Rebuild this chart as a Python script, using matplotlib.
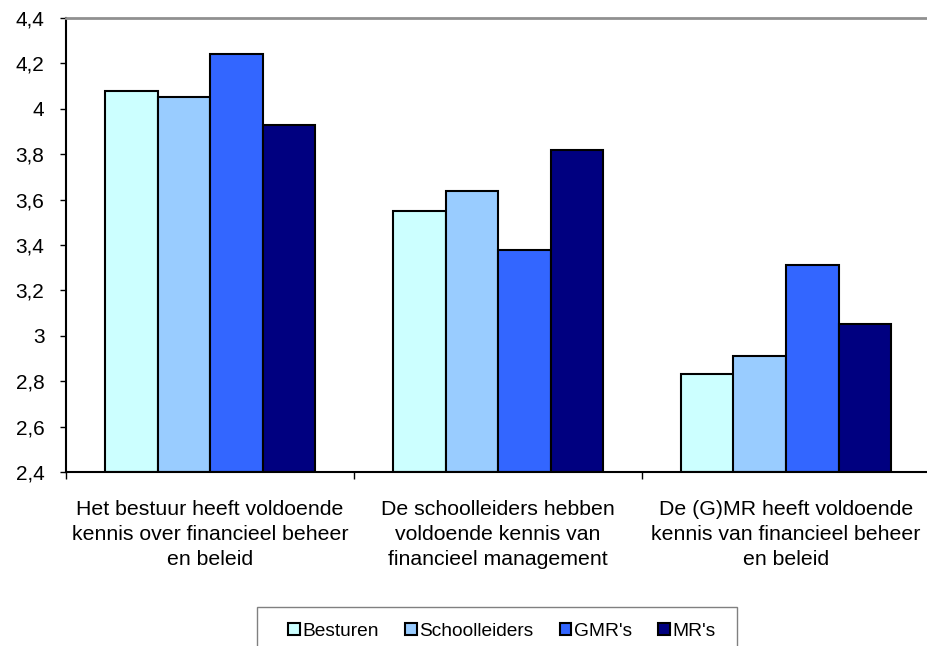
import matplotlib.pyplot as plt
import numpy as np
from matplotlib.patches import Rectangle

plt.rcParams["font.family"] = ["Liberation Sans", "DejaVu Sans"]

categories = [
    "Het bestuur heeft voldoende\nkennis over financieel beheer\nen beleid",
    "De schoolleiders hebben\nvoldoende kennis van\nfinancieel management",
    "De (G)MR heeft voldoende\nkennis van financieel beheer\nen beleid",
]
series = ["Besturen", "Schoolleiders", "GMR's", "MR's"]
besturen = [4.08, 3.55, 2.83]
schoolleiders = [4.05, 3.64, 2.91]
gmrs = [4.24, 3.38, 3.31]
mrs = [3.93, 3.82, 3.05]
yticks = [2.4, 2.6, 2.8, 3.0, 3.2, 3.4, 3.6, 3.8, 4.0, 4.2, 4.4]
ytick_labels = ["2,4", "2,6", "2,8", "3", "3,2", "3,4", "3,6", "3,8", "4", "4,2", "4,4"]

colors = ["#CCFFFF", "#99CCFF", "#3366FF", "#000080"]
values = [besturen, schoolleiders, gmrs, mrs]

W, H = 927, 646
fig = plt.figure(figsize=(W / 100, H / 100), dpi=100)
# axes box in pixels: left 66, right 930, top 18, bottom 472
ax = fig.add_axes([66 / W, 1 - 472 / H, 864 / W, (472 - 18) / H])

x = np.arange(len(categories)) + 0.5
bw = 210 / 288 / 4
for i, (name, vals) in enumerate(zip(series, values)):
    ax.bar(x + (i - 1.5) * bw, np.array(vals) - 2.4, bw, bottom=2.4,
           color=colors[i], edgecolor="black", linewidth=1.5, label=name)

ax.set_xlim(0, 3)
ax.set_ylim(2.4, 4.4)
ax.set_yticks(yticks)
ax.set_yticklabels(ytick_labels, fontsize=15)
ax.set_xticks([0, 1, 2, 3])
ax.set_xticklabels([])
ax.set_xticks(x, minor=True)
ax.set_xticklabels(categories, minor=True, fontsize=15.3, linespacing=1.42)
ax.tick_params(axis="x", which="minor", length=0, pad=20)
ax.tick_params(axis="x", which="major", length=5, width=1, color="black")
ax.tick_params(axis="y", length=4.5, width=1, pad=11)

for s in ["left", "bottom"]:
    ax.spines[s].set_color("black")
    ax.spines[s].set_linewidth(1.5)
ax.spines["top"].set_color("#909090")
ax.spines["top"].set_linewidth(2)
ax.spines["right"].set_visible(False)

# legend frame (runs off the bottom of the canvas, as in the original)
fig.patches.append(Rectangle((257 / W, 1 - 660 / H), 480 / W, 53 / H,
                             transform=fig.transFigure, facecolor="white",
                             edgecolor="#808080", linewidth=1))
leg = fig.legend(loc="center", bbox_to_anchor=(502 / W, 1 - 631 / H), ncol=4,
                 fontsize=13.8, frameon=False, borderpad=0,
                 handlelength=0.6, handleheight=0.6, handletextpad=0.15,
                 columnspacing=1.35, borderaxespad=0)
for h in leg.legend_handles:
    h.set_linewidth(1.5)

fig.savefig("out.png", dpi=100)
